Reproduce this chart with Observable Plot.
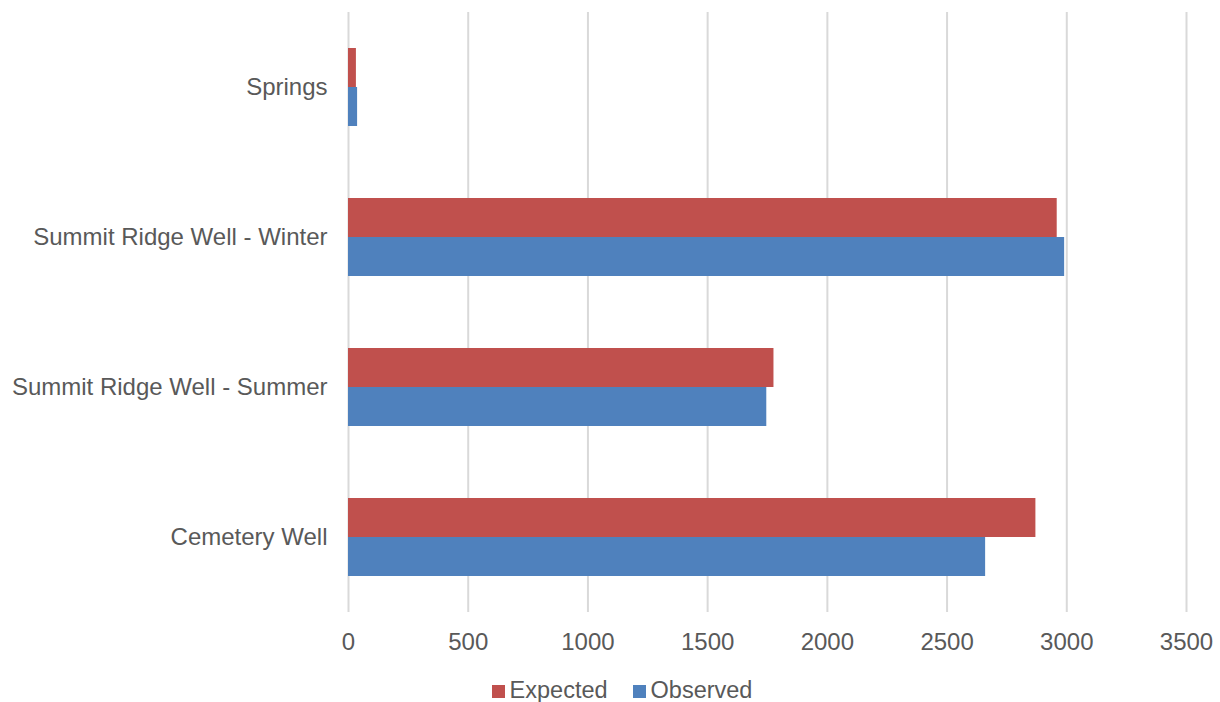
<!DOCTYPE html>
<html>
<head>
<meta charset="utf-8">
<script src="https://cdn.jsdelivr.net/npm/d3@7"></script>
<script src="https://cdn.jsdelivr.net/npm/@observablehq/plot@0.6"></script>
<style>
  html, body { margin: 0; padding: 0; background: #fff; overflow: hidden; }
  body { width: 1220px; height: 702px; position: relative; font-family: "Liberation Sans", Arial, sans-serif; }
  #chart { position: absolute; left: 0; top: 0; }
  #legend { position: absolute; left: 0; width: 1220px; top: 679px; height: 24px; line-height: 1; font-size: 23.5px; color: #595959; text-align: center; white-space: nowrap; }
  #legend .inner { display: inline-block; margin-left: 24px; }
  #legend .sw { display: inline-block; width: 13px; height: 13px; vertical-align: baseline; margin-right: 5px; }
  #legend .item { display: inline-block; }
  #legend .item + .item { margin-left: 25px; }
</style>
</head>
<body>
<div id="chart"></div>
<div id="legend"></div>
<script>
const categories = ["Springs", "Summit Ridge Well - Winter", "Summit Ridge Well - Summer", "Cemetery Well"];
const seriesNames = ["Expected", "Observed"];
const expected = [33, 2960, 1777, 2871];
const observed = [38, 2991, 1747, 2661];
const xTicks = [0, 500, 1000, 1500, 2000, 2500, 3000, 3500];
const colors = ["#C0504D", "#4F81BD"];

const data = [];
categories.forEach((c, i) => {
  data.push({category: c, series: seriesNames[0], value: expected[i]});
  data.push({category: c, series: seriesNames[1], value: observed[i]});
});

const chart = Plot.plot({
  width: 1220,
  height: 660,
  marginTop: 12,
  marginBottom: 48,
  marginLeft: 348,
  marginRight: 34,
  style: {fontFamily: "'Liberation Sans', Arial, sans-serif", fontSize: "24px", color: "#595959", background: "#fff"},
  x: {domain: [0, 3500], ticks: xTicks, tickFormat: d => String(d), tickSize: 0, tickPadding: 20, label: null},
  y: {domain: seriesNames, axis: null, paddingInner: 0, paddingOuter: 0.908},
  fy: {domain: categories, axis: "left", padding: 0, tickSize: 0, tickPadding: 21, label: null},
  color: {domain: seriesNames, range: colors},
  marks: [
    Plot.gridX(xTicks, {stroke: "#d9d9d9", strokeOpacity: 1, strokeWidth: 2}),
    Plot.barX(data, {x: "value", y: "series", fy: "category", fill: "series"})
  ]
});
document.getElementById("chart").appendChild(chart);

const legend = document.getElementById("legend");
const inner = document.createElement("span");
inner.className = "inner";
seriesNames.forEach((s, i) => {
  const item = document.createElement("span");
  item.className = "item";
  const sw = document.createElement("span");
  sw.className = "sw";
  sw.style.background = colors[i];
  item.appendChild(sw);
  item.appendChild(document.createTextNode(s));
  inner.appendChild(item);
});
legend.appendChild(inner);
</script>
</body>
</html>
